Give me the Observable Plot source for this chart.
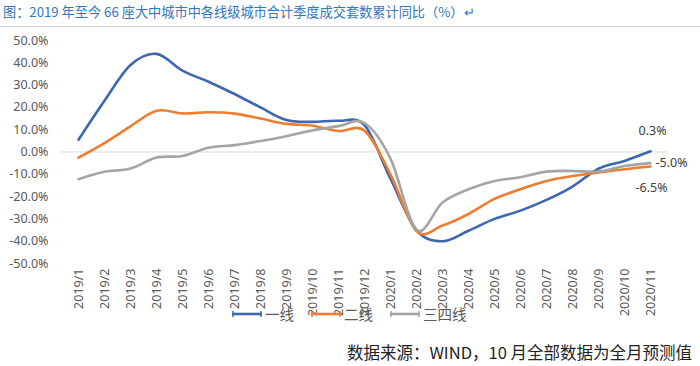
<!DOCTYPE html>
<html>
<head>
<meta charset="utf-8">
<script src="https://cdn.jsdelivr.net/npm/d3@7"></script>
<script src="https://cdn.jsdelivr.net/npm/@observablehq/plot@0.6"></script>
<style>
  html, body { margin: 0; padding: 0; background: #fff; }
  #wrap { position: relative; width: 700px; height: 366px; overflow: hidden; font-family: "Noto Sans", "Noto Sans CJK SC", sans-serif; }
  #title { position: absolute; left: 3px; top: 2px; font-family: "Noto Sans CJK SC", sans-serif; font-size: 13.2px; color: #3276bd; white-space: nowrap; letter-spacing: 0px; }
  #rule { position: absolute; left: 0; top: 26px; width: 700px; height: 1px; background: #d0d0d0; }
  #legend { position: absolute; top: 303px; left: 0; height: 20px; }
  .item { position: absolute; top: 0; display: flex; align-items: center; font-family: "Noto Sans CJK SC", sans-serif; font-size: 14.5px; color: #595959; white-space: nowrap; }
  #source { position: absolute; right: 8px; top: 340px; font-family: "Noto Sans CJK SC", sans-serif; font-size: 16.5px; color: #222; white-space: nowrap; }
  #chart { position: absolute; left: 0; top: 0; }
</style>
</head>
<body>
<div id="wrap">
  <div id="chart"></div>
  <div id="title"></div>
  <div id="rule"></div>
  <div id="legend"></div>
  <div id="source"></div>
</div>
<script>
const titleText = "图：2019 年至今 66 座大中城市中各线级城市合计季度成交套数累计同比（%）↵";
const sourceText = "数据来源：WIND，10 月全部数据为全月预测值";
const months = ["2019/1","2019/2","2019/3","2019/4","2019/5","2019/6","2019/7","2019/8","2019/9","2019/10","2019/11","2019/12","2020/1","2020/2","2020/3","2020/4","2020/5","2020/6","2020/7","2020/8","2020/9","2020/10","2020/11"];
const seriesNames = ["一线", "二线", "三四线"];
const tier1 = [5.5, 23, 39, 44, 36.5, 31.5, 26, 20, 14.3, 13.5, 14, 12, -12, -35, -40, -35.3, -30, -26.3, -21.5, -15.5, -7.5, -4, 0.3];
const tier2 = [-2.5, 4, 11.5, 18.5, 17.3, 17.8, 17.2, 15, 12.6, 11.8, 9.4, 9.5, -10, -35.5, -33, -27.8, -21, -16.7, -13, -10.8, -9.2, -7.7, -6.5];
const tier34 = [-12.2, -8.9, -7.4, -2.5, -1.8, 1.9, 3.1, 4.9, 7.1, 9.7, 11.6, 13, -3, -35, -22.6, -16.7, -13, -11.3, -8.8, -8.5, -8.8, -6.3, -5.0];
const yTicks = [-50, -40, -30, -20, -10, 0, 10, 20, 30, 40, 50];
const endLabels = [
  {series: "一线", text: "0.3%"},
  {series: "三四线", text: "-5.0%"},
  {series: "二线", text: "-6.5%"}
];
const colors = ["#3e67b1", "#ed7d31", "#a5a5a5"];

const allSeries = [tier1, tier2, tier34];
const rows = [];
allSeries.forEach((vals, s) => vals.forEach((v, i) => rows.push({series: seriesNames[s], month: months[i], value: v})));
const last = months[months.length - 1];
const endRows = endLabels.map(d => ({...d, month: last, value: allSeries[seriesNames.indexOf(d.series)][months.length - 1]}));

const chart = Plot.plot({
  width: 700,
  height: 366,
  marginLeft: 60,
  marginRight: 32,
  marginTop: 40,
  marginBottom: 103,
  style: {fontFamily: "'Noto Sans', sans-serif", fontSize: "12px", color: "#595959", background: "transparent"},
  x: {type: "point", domain: months, padding: 0.5, label: null},
  y: {domain: [-50, 50], label: null},
  color: {domain: seriesNames, range: colors},
  marks: [
    Plot.ruleY([0], {stroke: "#d9d9d9", strokeWidth: 1}),
    Plot.axisY({ticks: yTicks, tickSize: 0, tickPadding: 12, tickFormat: d => d.toFixed(1) + "%", fontSize: 12.5, fill: "#595959", label: null}),
    Plot.axisX({tickSize: 0, tickPadding: 5, tickRotate: -90, fontSize: 12.5, fill: "#595959", label: null}),
    Plot.line(rows, {x: "month", y: "value", z: "series", stroke: "series", strokeWidth: 2.6, curve: "cardinal", tension: 0}),
    Plot.text(endRows.filter(d => d.series === "一线"), {x: "month", y: "value", text: "text", dy: -20, dx: 2, fontSize: 12.5, fill: "#404040"}),
    Plot.text(endRows.filter(d => d.series === "三四线"), {x: "month", y: "value", text: "text", dx: 5, textAnchor: "start", fontSize: 12.5, fill: "#404040"}),
    Plot.text(endRows.filter(d => d.series === "二线"), {x: "month", y: "value", text: "text", dy: 22, dx: 1, fontSize: 12.5, fill: "#404040"})
  ]
});
document.getElementById("chart").appendChild(chart);
document.getElementById("title").textContent = titleText;
document.getElementById("source").textContent = sourceText;

const legendPos = [230, 309, 388];
const legend = document.getElementById("legend");
seriesNames.forEach((name, i) => {
  const item = document.createElement("div");
  item.className = "item";
  item.style.left = legendPos[i] + "px";
  item.innerHTML = `<svg width="34" height="20"><line x1="2" y1="10" x2="32" y2="10" stroke="${colors[i]}" stroke-width="2.6"/><line x1="3" y1="7" x2="3" y2="13" stroke="${colors[i]}" stroke-width="1.5"/><line x1="31" y1="7" x2="31" y2="13" stroke="${colors[i]}" stroke-width="1.5"/></svg><span style="margin-left:1px">${name}</span>`;
  legend.appendChild(item);
});
</script>
</body>
</html>
